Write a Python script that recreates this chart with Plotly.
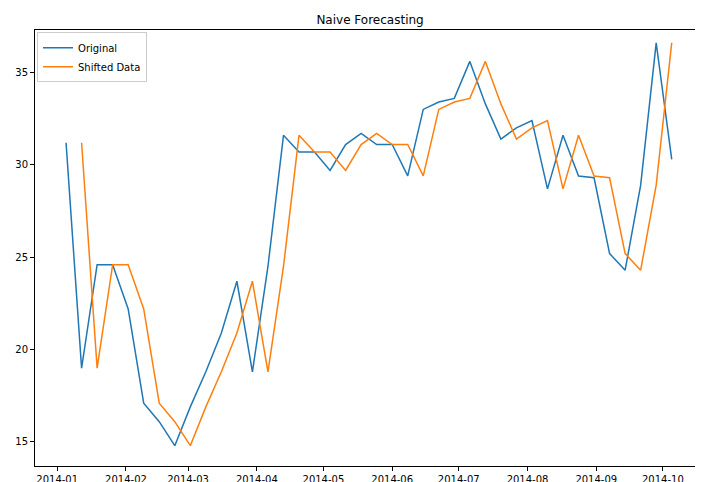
import plotly.graph_objects as go
import pandas as pd

dates = pd.date_range("2014-01-05", periods=40, freq="7D")
original = [31.2, 19.0, 24.6, 24.6, 22.2, 17.1, 16.1, 14.8, 16.9, 18.8,
            20.9, 23.7, 18.8, 24.5, 31.6, 30.7, 30.7, 29.7, 31.1, 31.7,
            31.1, 31.1, 29.4, 33.0, 33.4, 33.6, 35.6, 33.3, 31.4, 32.0,
            32.4, 28.7, 31.6, 29.4, 29.3, 25.2, 24.3, 28.9, 36.6, 30.3]
shifted = [None] + original[:-1]

fig = go.Figure()
fig.add_trace(go.Scatter(x=dates, y=original, mode="lines", name="Original",
                         line=dict(color="#1f77b4", width=1.5)))
fig.add_trace(go.Scatter(x=dates, y=shifted, mode="lines", name="Shifted Data",
                         line=dict(color="#ff7f0e", width=1.5)))

axis = dict(showgrid=False, showline=True, linecolor="black", linewidth=1, mirror=True,
            ticks="outside", ticklen=4, tickcolor="black", zeroline=False, automargin=False,
            tickfont=dict(family="DejaVu Sans", size=10, color="black"))
fig.update_layout(
    width=703, height=482, paper_bgcolor="white", plot_bgcolor="white",
    margin=dict(l=27, r=6, t=22, b=24),
    title=dict(text="Naive Forecasting", x=0.515, xanchor="center", y=0.985, yanchor="top",
               font=dict(family="DejaVu Sans", size=12, color="black")),
    legend=dict(x=0.003, y=0.995, xanchor="left", yanchor="top", bordercolor="#cccccc",
                borderwidth=1, bgcolor="white", tracegroupgap=0,
                font=dict(family="DejaVu Sans", size=10, color="black")),
    showlegend=True,
)
fig.update_xaxes(**axis, range=["2013-12-22", "2014-10-20"], tickformat="%Y-%m", dtick="M1",
                 tick0="2014-01-01")
fig.update_yaxes(**axis, range=[13.7, 37.3], tickvals=[15, 20, 25, 30, 35])
fig.write_html("out.html")
